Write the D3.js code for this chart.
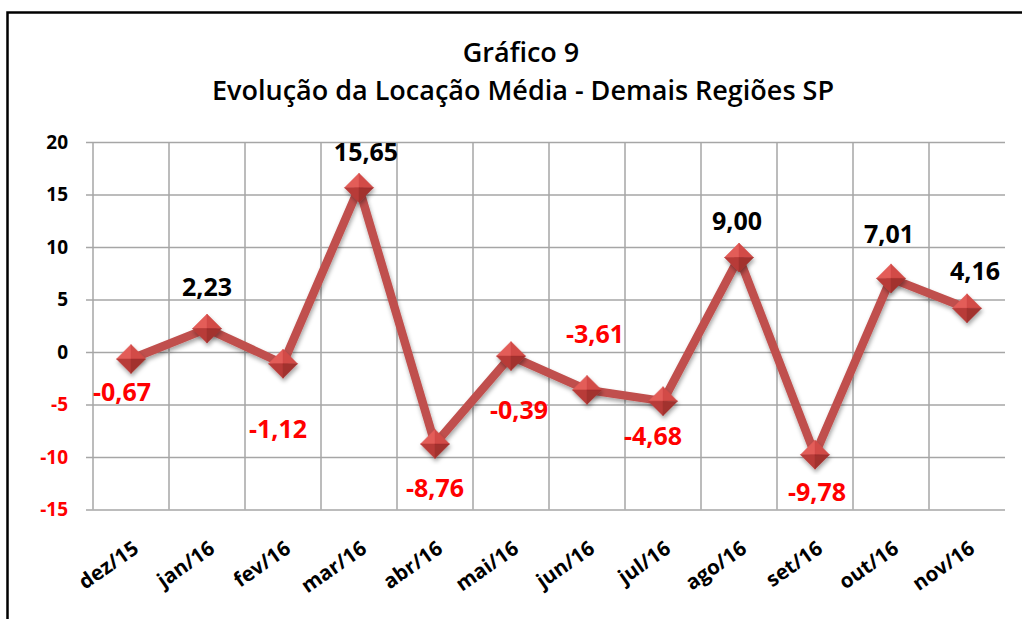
<!DOCTYPE html>
<html>
<head>
<meta charset="utf-8">
<script src="https://cdn.jsdelivr.net/npm/d3@7"></script>
<style>
  body { margin: 0; background: #fff; }
  svg { display: block; }
  text { font-family: "Open Sans", sans-serif; }
</style>
</head>
<body>
<svg></svg>
<script>
const months = ["dez/15", "jan/16", "fev/16", "mar/16", "abr/16", "mai/16",
                "jun/16", "jul/16", "ago/16", "set/16", "out/16", "nov/16"];
const values = [-0.67, 2.23, -1.12, 15.65, -8.76, -0.39, -3.61, -4.68, 9.00, -9.78, 7.01, 4.16];
const yTicks = [-15, -10, -5, 0, 5, 10, 15, 20];
const titleLines = ["Gráfico 9", "Evolução da Locação Média - Demais Regiões SP"];

// label nudges relative to each point (dx, dy), like the hand-placed excel labels
const labelNudge = [[-9, 32], [0, -43], [-5, 64], [7, -37], [0, 43], [8, 53],
                    [8, -57], [-10, 34], [-2, -38], [2, 36], [-2, -45], [8, -38]];

const W = 1022, H = 619;
const plotL = 93, plotR = 1005, plotT = 142, plotB = 509.5;

const svg = d3.select("svg").attr("width", W).attr("height", H);

// outer frame (runs off the right and bottom of the picture)
svg.append("rect")
  .attr("x", 7.5).attr("y", 12.5)
  .attr("width", 1030).attr("height", 640)
  .attr("fill", "none").attr("stroke", "#000").attr("stroke-width", 2.5);

svg.append("text")
  .attr("x", 521).attr("y", 62)
  .attr("text-anchor", "middle")
  .attr("font-size", 27).attr("font-weight", 600)
  .text(titleLines[0]);
svg.append("text")
  .attr("x", 523).attr("y", 100)
  .attr("text-anchor", "middle")
  .attr("font-size", 27).attr("font-weight", 600)
  .text(titleLines[1]);

const x = d3.scaleBand().domain(months).range([plotL, plotR]);
const y = d3.scaleLinear().domain([-15, 20]).range([plotB, plotT]);
const cx = d => x(d) + x.bandwidth() / 2;
const fmt = v => v.toFixed(2).replace(".", ",");

// horizontal gridlines + y labels
const yAxis = svg.append("g")
  .attr("transform", `translate(${plotR},0)`)
  .call(d3.axisLeft(y).tickValues(yTicks).tickSize(plotR - 86).tickPadding(18).tickFormat(d => String(d)));
yAxis.select(".domain").remove();
yAxis.selectAll("line").attr("stroke", "#a6a6a6").attr("stroke-width", 1.5);
yAxis.selectAll("text")
  .attr("font-size", 19).attr("font-weight", 700)
  .attr("font-family", "'Open Sans', sans-serif")
  .attr("fill", d => d < 0 ? "#ff0000" : "#000");

// vertical gridlines at category boundaries
svg.append("g").selectAll("line")
  .data(months)
  .join("line")
  .attr("x1", d => x(d)).attr("x2", d => x(d))
  .attr("y1", plotT).attr("y2", plotB)
  .attr("stroke", "#a6a6a6").attr("stroke-width", 1.5);

// x labels
const xAxis = svg.append("g")
  .attr("transform", `translate(0,${plotB})`)
  .call(d3.axisBottom(x).tickSize(0).tickPadding(0));
xAxis.select(".domain").remove();
xAxis.selectAll("text")
  .attr("font-size", 20.5).attr("font-weight", 700)
  .attr("font-family", "'Open Sans', sans-serif")
  .attr("fill", "#000")
  .attr("text-anchor", "end")
  .attr("dy", null)
  .attr("y", null)
  .attr("transform", "translate(9,42) rotate(-35)");

// shadow filter
const defs = svg.append("defs");
const f = defs.append("filter").attr("id", "sh").attr("x", "-20%").attr("y", "-20%").attr("width", "140%").attr("height", "140%");
f.append("feDropShadow").attr("dx", 1).attr("dy", 3).attr("stdDeviation", 2).attr("flood-color", "#000").attr("flood-opacity", 0.35);

const pts = months.map((m, i) => ({ m, v: values[i] }));

svg.append("path")
  .datum(pts)
  .attr("fill", "none")
  .attr("stroke", "#c0504d")
  .attr("stroke-width", 8.5)
  .attr("stroke-linejoin", "round")
  .attr("filter", "url(#sh)")
  .attr("d", d3.line().x(d => cx(d.m)).y(d => y(d.v)));

// beveled diamond markers
const r = 14.5;
const facets = [
  { c: "#e35d59", p: [[0, -r], [-r, 0], [0, 0]] },
  { c: "#d24b47", p: [[0, -r], [r, 0], [0, 0]] },
  { c: "#b83b38", p: [[-r, 0], [0, r], [0, 0]] },
  { c: "#a2302e", p: [[r, 0], [0, r], [0, 0]] }
];
const mk = svg.append("g").selectAll("g")
  .data(pts)
  .join("g")
  .attr("transform", d => `translate(${cx(d.m)},${y(d.v)})`)
  .attr("filter", "url(#sh)");
mk.selectAll("path")
  .data(facets)
  .join("path")
  .attr("fill", f => f.c)
  .attr("stroke", f => f.c)
  .attr("stroke-width", 0.5)
  .attr("d", f => "M" + f.p.map(p => p.join(",")).join("L") + "Z");

// data labels
svg.append("g").selectAll("text")
  .data(pts)
  .join("text")
  .attr("x", (d, i) => cx(d.m) + labelNudge[i][0])
  .attr("y", (d, i) => y(d.v) + labelNudge[i][1])
  .attr("dominant-baseline", "central")
  .attr("text-anchor", "middle")
  .attr("font-size", 25).attr("font-weight", 700)
  .attr("fill", d => d.v < 0 ? "#ff0000" : "#000")
  .text(d => fmt(d.v));
</script>
</body>
</html>
